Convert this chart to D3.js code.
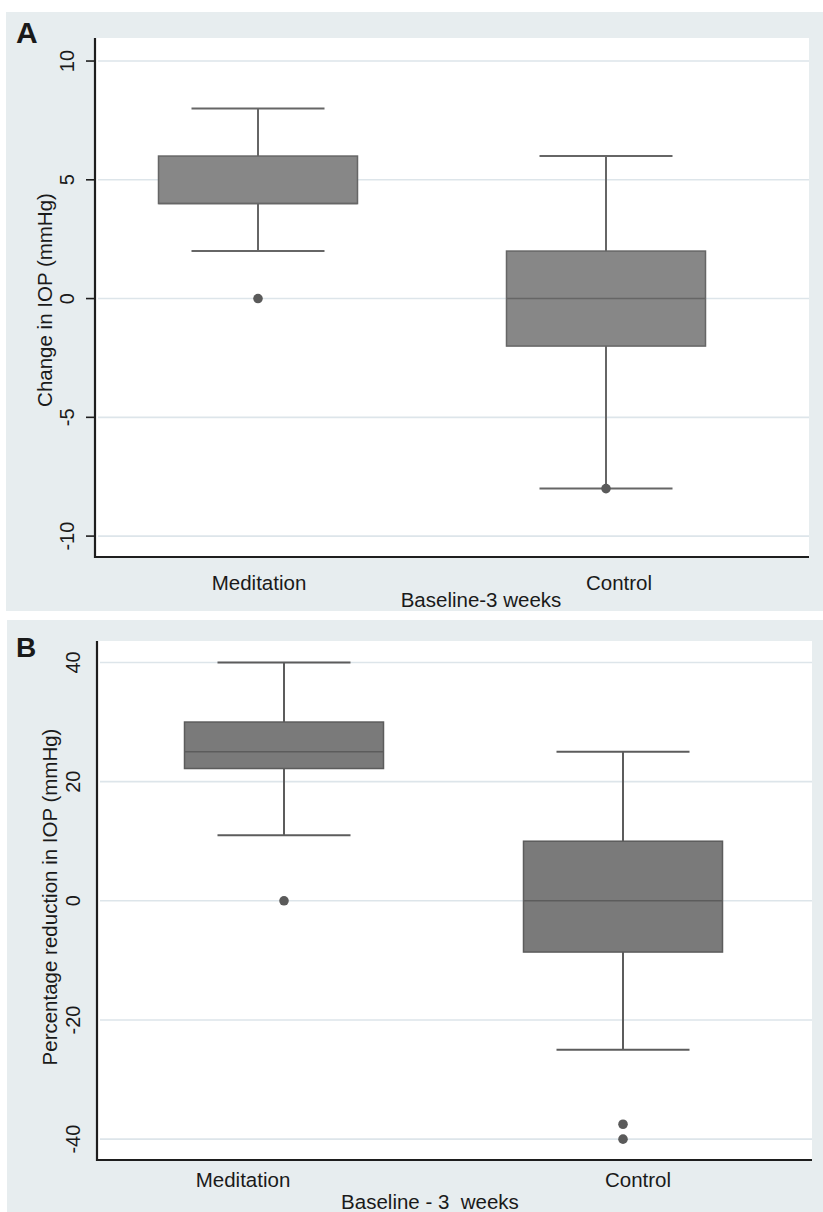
<!DOCTYPE html>
<html><head><meta charset="utf-8">
<script src="https://cdn.jsdelivr.net/npm/d3@7"></script>
<style>
html,body{margin:0;padding:0;background:#fff;}
svg{display:block;}
text{font-family:Arial,"Liberation Sans",sans-serif;fill:#1a1a1a;}
</style></head>
<body>
<svg id="chart" width="823" height="1212"></svg>
<script>
// ---------- data ----------
const categories = ["Meditation", "Control"];
// Panel A: change in IOP (mmHg)
const aWhiskLow = [2, -8];
const aQ1       = [4, -2];
const aMedian   = [4, 0];
const aQ3       = [6, 2];
const aWhiskHigh= [8, 6];
const aOutliers = [[0], [-8]];
const aTicks    = [-10, -5, 0, 5, 10];
// Panel B: percentage reduction in IOP
const bWhiskLow = [11, -25];
const bQ1       = [22.2, -8.6];
const bMedian   = [25, 0];
const bQ3       = [30, 10];
const bWhiskHigh= [40, 25];
const bOutliers = [[0], [-37.5, -40]];
const bTicks    = [-40, -20, 0, 20, 40];

const svg = d3.select("#chart");
const BG = "#e7edef";

function panel(cfg){
  const g = svg.append("g");
  // outer background
  g.append("rect").attr("x", cfg.bg[0]).attr("y", cfg.bg[1])
    .attr("width", cfg.bg[2]).attr("height", cfg.bg[3]).attr("fill", BG);
  // plot area
  const L = cfg.plot[0], T = cfg.plot[1], R = cfg.plot[2], B = cfg.plot[3];
  g.append("rect").attr("x", L).attr("y", T).attr("width", R-L).attr("height", B-T).attr("fill", "#fff");

  const y = d3.scaleLinear().domain(cfg.domain).range([B, T]);
  const x = d3.scalePoint().domain(categories).range(cfg.xRange);

  // grid
  g.selectAll(".grid").data(cfg.ticks).join("line")
    .attr("x1", L+3).attr("x2", R).attr("y1", d=>y(d)).attr("y2", d=>y(d))
    .attr("stroke", "#dde5ea").attr("stroke-width", 1.6);

  const data = categories.map((c,i)=>({c, lo:cfg.lo[i], q1:cfg.q1[i], med:cfg.med[i], q3:cfg.q3[i], hi:cfg.hi[i], out:cfg.out[i]}));
  const boxW = 199, capW = 133;
  const stroke = cfg.stroke;
  data.forEach(d=>{
    const cx = x(d.c);
    // whiskers
    g.append("line").attr("x1",cx).attr("x2",cx).attr("y1",y(d.hi)).attr("y2",y(d.q3))
      .attr("stroke",stroke).attr("stroke-width",2);
    g.append("line").attr("x1",cx).attr("x2",cx).attr("y1",y(d.q1)).attr("y2",y(d.lo))
      .attr("stroke",stroke).attr("stroke-width",2);
    g.append("line").attr("x1",cx-capW/2).attr("x2",cx+capW/2).attr("y1",y(d.hi)).attr("y2",y(d.hi))
      .attr("stroke",stroke).attr("stroke-width",2);
    g.append("line").attr("x1",cx-capW/2).attr("x2",cx+capW/2).attr("y1",y(d.lo)).attr("y2",y(d.lo))
      .attr("stroke",stroke).attr("stroke-width",2);
    // box
    g.append("rect").attr("x",cx-boxW/2).attr("y",y(d.q3)).attr("width",boxW).attr("height",y(d.q1)-y(d.q3))
      .attr("fill",cfg.fill).attr("stroke",stroke).attr("stroke-width",1.5);
    g.append("line").attr("x1",cx-boxW/2).attr("x2",cx+boxW/2).attr("y1",y(d.med)).attr("y2",y(d.med))
      .attr("stroke",stroke).attr("stroke-width",1.5);
    // outliers
    g.selectAll(null).data(d.out).join("circle")
      .attr("cx",cx).attr("cy",v=>y(v)).attr("r",4.8).attr("fill","#5a5a5a");
  });

  // axes lines
  g.append("line").attr("x1",L).attr("x2",L).attr("y1",T).attr("y2",B+1).attr("stroke","#1e1e1e").attr("stroke-width",2.2);
  g.append("line").attr("x1",L-1).attr("x2",R).attr("y1",B).attr("y2",B).attr("stroke","#1e1e1e").attr("stroke-width",2.2);

  // y ticks
  if (cfg.tickLen > 0){
    g.selectAll(null).data(cfg.ticks).join("line")
      .attr("x1",L-cfg.tickLen).attr("x2",L).attr("y1",d=>y(d)).attr("y2",d=>y(d))
      .attr("stroke","#1e1e1e").attr("stroke-width",1.6);
  }
  g.selectAll(null).data(cfg.ticks).join("text")
    .attr("transform", d=>`translate(${cfg.tickLabelX},${y(d)}) rotate(-90)`)
    .attr("text-anchor","middle").attr("font-size",20).text(d=>d);

  // y title
  g.append("text").attr("transform",`translate(${cfg.yTitleX},${cfg.yTitleY}) rotate(-90)`)
    .attr("text-anchor","middle").attr("font-size",20.5).text(cfg.yTitle);

  // x category labels
  g.selectAll(null).data(categories).join("text")
    .attr("x",(d,i)=>x(d)+cfg.labelDx[i]).attr("y",cfg.catY)
    .attr("text-anchor","middle").attr("font-size",20.5).text(d=>d);

  // x title
  g.append("text").attr("x",cfg.xTitleX).attr("y",cfg.xTitleY)
    .attr("text-anchor","middle").attr("font-size",20.5).style("white-space","pre").text(cfg.xTitle);

  // panel letter
  g.append("text").attr("x",cfg.letterPos[0]).attr("y",cfg.letterPos[1])
    .attr("font-size",cfg.letterSize).attr("font-weight","bold").attr("fill","#000").text(cfg.letter);
}

panel({
  bg:[6,12,817,599], plot:[95,38,809,557], domain:[-10.88,10.97], ticks:aTicks,
  xRange:[258,606], lo:aWhiskLow, q1:aQ1, med:aMedian, q3:aQ3, hi:aWhiskHigh, out:aOutliers,
  fill:"#878787", stroke:"#666", tickLen:9, tickLabelX:74,
  yTitle:"Change in IOP (mmHg)", yTitleX:52, yTitleY:300,
  labelDx:[1,13], catY:590, xTitle:"Baseline-3 weeks", xTitleX:481, xTitleY:607,
  letter:"A", letterPos:[16,43], letterSize:30
});

panel({
  bg:[7,620,816,592], plot:[97,641,812,1160], domain:[-43.5,43.6], ticks:bTicks,
  xRange:[284,623], lo:bWhiskLow, q1:bQ1, med:bMedian, q3:bQ3, hi:bWhiskHigh, out:bOutliers,
  fill:"#7a7a7a", stroke:"#5c5c5c", tickLen:0, tickLabelX:80,
  yTitle:"Percentage reduction in IOP (mmHg)", yTitleX:57, yTitleY:897,
  labelDx:[-41,15], catY:1187, xTitle:"Baseline - 3  weeks", xTitleX:430, xTitleY:1209,
  letter:"B", letterPos:[16,657], letterSize:28
});
</script>
</body></html>
